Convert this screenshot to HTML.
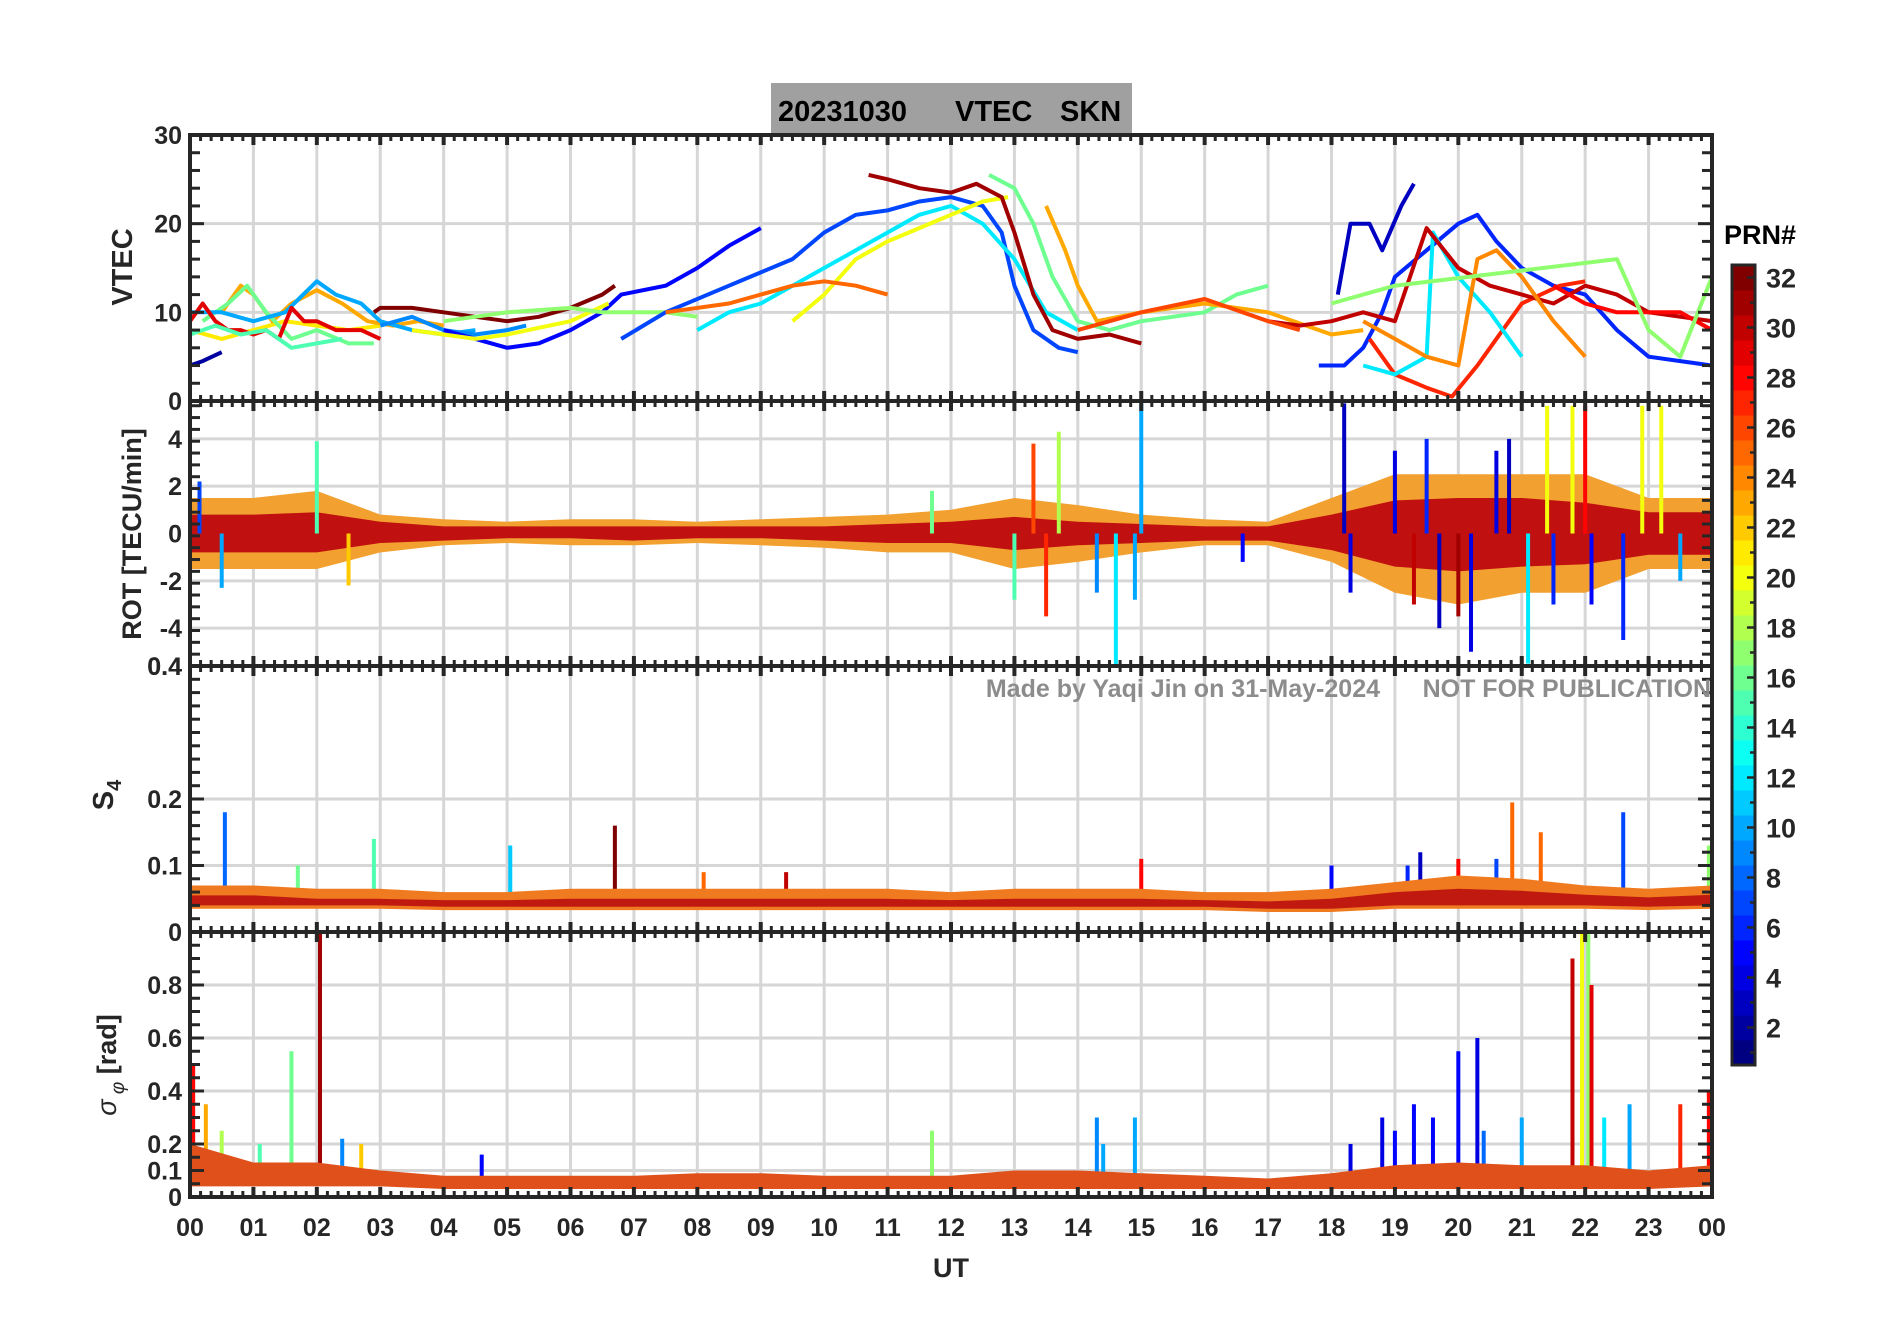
<!DOCTYPE html>
<html><head><meta charset="utf-8"><style>
html,body{margin:0;padding:0;background:#fff;}
svg{display:block;font-family:"Liberation Sans",Arial,sans-serif;font-weight:bold;}
</style></head><body>
<svg id="chart" width="1902" height="1330" viewBox="0 0 1902 1330" xmlns="http://www.w3.org/2000/svg">
<rect x="0" y="0" width="1902" height="1330" fill="#fff"/>
<rect x="771" y="83" width="361" height="50" fill="#a0a0a0"/>
<text x="778" y="121" font-size="29" fill="#000">20231030</text>
<text x="955" y="121" font-size="29" fill="#000">VTEC</text>
<text x="1060" y="121" font-size="29" fill="#000">SKN</text>
<g id="layer"></g>
</svg>
<script>
// ---------- data ----------
const hourTicks = ["00","01","02","03","04","05","06","07","08","09","10","11","12","13","14","15","16","17","18","19","20","21","22","23","00"];
const vtecTicks = [0,10,20,30];
const rotTicks = [-4,-2,0,2,4];
const s4Ticks = [0,0.1,0.2,0.4];
const sigTicks = [0,0.1,0.2,0.4,0.6,0.8];
const cbTicks = [2,4,6,8,10,12,14,16,18,20,22,24,26,28,30,32];

// VTEC series: prn + [hour, value]
const vtecPrn = [21,23,16,10,29,15,9,2,32,5,20,17,7,12,20,31,25,16,23,6,3,27,12,30,24,28,17,26];
const vtecVals = [
 [[0,8],[0.5,7],[1,8],[1.5,9],[2,8.5],[2.5,8],[3,8.5]],
 [[0.5,10],[0.8,13],[1,12],[1.3,9],[1.6,11],[2,12.5],[2.4,11],[2.8,9],[3.2,8.5],[3.6,9],[4,8.5]],
 [[0.2,9],[0.6,11],[0.9,13],[1.2,10],[1.6,7],[2,8],[2.5,6.5],[2.9,6.5]],
 [[0,10],[0.5,10],[1,9],[1.5,10],[2,13.5],[2.3,12],[2.7,11],[3,9],[3.5,8],[4,7.5],[4.5,8]],
 [[0,9],[0.2,11],[0.4,9],[0.6,8],[0.8,8],[1,7.5],[1.2,8],[1.4,7],[1.6,10.5],[1.8,9],[2,9],[2.3,8],[2.7,8],[3,7]],
 [[0,7.5],[0.4,8.5],[0.8,7.5],[1.2,8],[1.6,6],[2,6.5],[2.4,7]],
 [[3,8.5],[3.5,9.5],[4,8],[4.5,7.5],[5,8],[5.3,8.5]],
 [[0,4],[0.2,4.5],[0.5,5.5]],
 [[2.9,10],[3,10.5],[3.5,10.5],[4,10],[4.5,9.5],[5,9],[5.5,9.5],[6,10.5],[6.5,12],[6.7,13]],
 [[4,8],[4.5,7],[5,6],[5.5,6.5],[6,8],[6.5,10],[6.8,12],[7.5,13],[8,15],[8.5,17.5],[9,19.5]],
 [[3.5,8],[4.5,7],[5,7.5],[6,9],[6.6,11]],
 [[4,9],[5,10],[6,10.5],[6.5,10],[7.5,10],[8,9.5]],
 [[6.8,7],[7.5,10],[8.5,13],[9.5,16],[10,19],[10.5,21],[11,21.5],[11.5,22.5],[12,23],[12.5,22],[12.8,19],[13,13],[13.3,8],[13.7,6],[14,5.5]],
 [[8,8],[8.5,10],[9,11],[9.5,13],[10,15],[10.5,17],[11,19],[11.5,21],[12,22],[12.5,20],[13,16],[13.5,10],[14,8]],
 [[9.5,9],[10,12],[10.5,16],[11,18],[11.5,19.5],[12,21],[12.5,22.5],[12.9,23]],
 [[10.7,25.5],[11,25],[11.5,24],[12,23.5],[12.4,24.5],[12.8,23],[13,19],[13.3,12],[13.6,8],[14,7],[14.5,7.5],[15,6.5]],
 [[7.5,10],[8.5,11],[9.5,13],[10,13.5],[10.5,13],[11,12]],
 [[12.6,25.5],[13,24],[13.3,20],[13.6,14],[14,9],[14.5,8],[15,9],[16,10],[16.5,12],[17,13]],
 [[13.5,22],[13.8,17],[14,13],[14.3,9],[15,10],[16,11],[17,10],[18,7.5],[18.5,8]],
 [[17.8,4],[18.2,4],[18.5,6],[18.8,10],[19,14],[19.5,17],[20,20],[20.3,21],[20.6,18],[21,15],[21.5,13],[22,12],[22.5,8],[23,5],[23.5,4.5],[24,4]],
 [[18.1,12],[18.3,20],[18.6,20],[18.8,17],[19.1,22],[19.3,24.5]],
 [[18.6,7],[19,3],[19.5,1.5],[19.9,0.5],[20.3,4],[20.7,8],[21,11],[21.3,12],[21.6,13],[22,13.5]],
 [[18.5,4],[19,3],[19.5,5],[19.6,19],[20,14],[20.5,10],[21,5]],
 [[17,9],[17.5,8.5],[18,9],[18.5,10],[19,9],[19.5,19.5],[20,15],[20.5,13],[21,12],[21.5,11],[22,13],[22.5,12],[23,10],[24,9]],
 [[18.5,9],[19,7],[19.5,5],[20,4],[20.3,16],[20.6,17],[21,14],[21.5,9],[22,5]],
 [[21.5,13],[22,11],[22.5,10],[23,10],[23.5,10],[24,8]],
 [[18,11],[18.5,12],[19,13],[22.5,16],[23,8],[23.5,5],[24,14]],
 [[14,8],[15,10],[16,11.5],[17,9],[17.5,8]]
];

// ROT band (hourly 0..24)
const rotHi = [1.5,1.5,1.8,0.8,0.6,0.5,0.6,0.6,0.5,0.6,0.7,0.8,1.0,1.5,1.2,0.8,0.6,0.5,1.5,2.5,2.5,2.5,2.5,1.5,1.5];
const rotLo = [-1.5,-1.5,-1.5,-0.8,-0.5,-0.4,-0.5,-0.5,-0.4,-0.5,-0.6,-0.8,-0.8,-1.5,-1.2,-0.8,-0.5,-0.5,-1.2,-2.5,-3,-2.5,-2.5,-1.5,-1.5];
const rotInHi = [0.8,0.8,0.9,0.5,0.3,0.3,0.3,0.3,0.3,0.3,0.3,0.4,0.5,0.7,0.5,0.4,0.3,0.3,0.8,1.4,1.5,1.5,1.3,0.9,0.9];
const rotInLo = [-0.8,-0.8,-0.8,-0.4,-0.3,-0.2,-0.2,-0.3,-0.2,-0.2,-0.3,-0.4,-0.4,-0.7,-0.5,-0.4,-0.3,-0.3,-0.7,-1.4,-1.6,-1.4,-1.3,-0.9,-0.9];
const rotSpikes = [[0.15,2.2,7],[0.5,-2.3,10],[2.0,3.9,15],[2.5,-2.2,22],[11.7,1.8,16],[13.0,-2.8,15],[13.3,3.8,26],[13.5,-3.5,27],[13.7,4.3,18],[14.3,-2.5,9],[14.6,-6,12],[15,5.5,10],[14.9,-2.8,10],[16.6,-1.2,5],[18.2,5.5,3],[18.3,-2.5,4],[19,3.5,4],[19.5,4,6],[19.7,-4,3],[20.2,-5,4],[20.6,3.5,4],[20.8,4,3],[21.1,-5.5,12],[21.5,-3,6],[21.4,5.4,20],[21.8,5.4,20],[22.0,5.4,28],[22.1,-3,5],[22.6,-4.5,6],[22.9,5.4,20],[23.2,5.4,20],[23.5,-2,10],[20.0,-3.5,31],[19.3,-3,30]];

// S4 band + spikes
const s4Hi = [0.07,0.07,0.065,0.065,0.06,0.06,0.065,0.065,0.065,0.065,0.065,0.065,0.06,0.065,0.065,0.065,0.06,0.06,0.065,0.075,0.085,0.08,0.07,0.065,0.07];
const s4Lo = [0.035,0.035,0.035,0.035,0.033,0.033,0.033,0.033,0.033,0.033,0.033,0.033,0.033,0.033,0.033,0.033,0.033,0.03,0.03,0.035,0.035,0.035,0.035,0.033,0.035];
const s4InHi = [0.055,0.055,0.05,0.05,0.048,0.048,0.05,0.05,0.05,0.05,0.05,0.05,0.048,0.05,0.05,0.05,0.048,0.046,0.05,0.06,0.065,0.062,0.056,0.052,0.056];
const s4InLo = [0.04,0.04,0.04,0.04,0.038,0.038,0.038,0.038,0.038,0.038,0.038,0.038,0.038,0.038,0.038,0.038,0.038,0.035,0.035,0.04,0.04,0.04,0.04,0.038,0.04];
const s4Spikes = [[0.55,0.18,8],[2.9,0.14,15],[5.05,0.13,11],[6.7,0.16,32],[9.4,0.09,30],[15,0.11,28],[20.85,0.195,25],[21.3,0.15,25],[22.6,0.18,7],[23.95,0.13,17],[19.4,0.12,3],[20,0.11,28],[1.7,0.1,16],[8.1,0.09,25],[18,0.1,5],[19.2,0.1,6],[20.6,0.11,7]];

// sigma-phi band + spikes
const sigHi = [0.2,0.13,0.13,0.1,0.08,0.08,0.08,0.08,0.09,0.09,0.08,0.08,0.08,0.1,0.1,0.09,0.08,0.07,0.09,0.12,0.13,0.12,0.12,0.1,0.12];
const sigLo = [0.04,0.04,0.04,0.04,0.03,0.03,0.03,0.03,0.03,0.03,0.03,0.03,0.03,0.03,0.03,0.03,0.03,0.03,0.03,0.03,0.03,0.03,0.03,0.03,0.04];
const sigSpikes = [[0.05,0.5,28],[0.25,0.35,23],[1.6,0.55,16],[2.05,1.0,31],[14.3,0.3,9],[14.9,0.3,10],[20.0,0.55,5],[20.3,0.6,4],[21.8,0.9,30],[21.95,1.0,20],[22.05,1.0,17],[22.1,0.8,29],[11.7,0.25,17],[23.5,0.35,27],[23.95,0.4,28],[18.8,0.3,4],[19.3,0.35,5],[18.3,0.2,4],[19.0,0.25,5],[19.6,0.3,5],[20.4,0.25,8],[21.0,0.3,10],[22.3,0.3,12],[22.7,0.35,10],[14.4,0.2,10],[0.5,0.25,18],[1.1,0.2,15],[2.4,0.22,9],[2.7,0.2,22],[4.6,0.16,5]];

// ---------- layout ----------
const X0 = 190, X1 = 1712;
const P = {
  vtec:{t:135,b:401,min:0,max:30},
  rot:{t:401,b:666,min:-5.6,max:5.6},
  s4:{t:666,b:932,min:0,max:0.4},
  sig:{t:932,b:1197,min:0,max:1}
};
const NS = "http://www.w3.org/2000/svg";
const layer = document.getElementById('layer');
function xs(h){return X0 + (X1-X0)*h/24;}
function ys(p,v){return p.b - (p.b-p.t)*(v-p.min)/(p.max-p.min);}
function jet(prn){
  const v=(prn-1)/31;
  const r=Math.max(0,Math.min(1,Math.min(4*v-1.5,-4*v+4.5)));
  const g=Math.max(0,Math.min(1,Math.min(4*v-0.5,-4*v+3.5)));
  const b=Math.max(0,Math.min(1,Math.min(4*v+0.5,-4*v+2.5)));
  return `rgb(${Math.round(r*255)},${Math.round(g*255)},${Math.round(b*255)})`;
}
function mk(tag,attrs,parent){
  const e=document.createElementNS(NS,tag);
  for(const k in attrs) e.setAttribute(k,attrs[k]);
  (parent||layer).appendChild(e);
  return e;
}

const panels = [['vtec',vtecTicks],['rot',rotTicks],['s4',s4Ticks],['sig',sigTicks]];
panels.forEach(([k,ticks])=>{
  const p=P[k];
  for(let h=1;h<24;h++){
    const l=mk('line',{x1:xs(h),x2:xs(h),y1:p.t,y2:p.b,stroke:'#d6d6d6','stroke-width':3});
    
    
  }
  ticks.forEach(v=>{
    const l=mk('line',{x1:X0,x2:X1,y1:ys(p,v),y2:ys(p,v),stroke:'#d6d6d6','stroke-width':3});
    
    
  });
});

function clipFor(k){
  const p=P[k];
  const cp=mk('clipPath',{id:'clip-'+k});
  mk('rect',{x:X0,y:p.t,width:X1-X0,height:p.b-p.t},cp);
  return 'url(#clip-'+k+')';
}

const gV = mk('g',{'clip-path':clipFor('vtec')});


vtecVals.forEach((s,i)=>{
  const d=s.map((pt,j)=>(j?'L':'M')+xs(pt[0]).toFixed(1)+' '+ys(P.vtec,pt[1]).toFixed(1)).join(' ');
  const e=mk('path',{d:d,fill:'none',stroke:jet(vtecPrn[i]),'stroke-width':4,'stroke-linejoin':'round'},gV);
  
  
});

function band(k,hi,lo,color,name,g){
  const p=P[k];
  let d='M'+hi.map((v,i)=>xs(i).toFixed(1)+' '+ys(p,v).toFixed(1)).join(' L');
  d+=' L'+lo.map((v,i)=>[i,v]).reverse().map(a=>xs(a[0]).toFixed(1)+' '+ys(p,a[1]).toFixed(1)).join(' L')+'Z';
  const e=mk('path',{d:d,fill:color,stroke:'none'},g);
  
  
}
function spikes(k,arr,base,g){
  const p=P[k];
  arr.forEach(s=>{
    const e=mk('line',{x1:xs(s[0]),x2:xs(s[0]),y1:ys(p,base),y2:ys(p,s[1]),stroke:jet(s[2]),'stroke-width':4},g);
    
    
  });
}

const gR = mk('g',{'clip-path':clipFor('rot')});


band('rot',rotHi,rotLo,'#f2a030','rot-outer-band',gR);
band('rot',rotInHi,rotInLo,'#c01010','rot-inner-band',gR);
spikes('rot',rotSpikes,0,gR);

const gS = mk('g',{'clip-path':clipFor('s4')});


spikes('s4',s4Spikes,0.04,gS);
band('s4',s4Hi,s4Lo,'#f07a20','s4-band',gS);
band('s4',s4InHi,s4InLo,'#c01a10','s4-inner-band',gS);

const gG = mk('g',{'clip-path':clipFor('sig')});


spikes('sig',sigSpikes,0.05,gG);
band('sig',sigHi,sigLo,'#e0501a','sigma-band',gG);

panels.forEach(([k,ticks])=>{
  const p=P[k];
  for(let m=0;m<=144;m++){
    const h=m/6, major=(m%6===0), len=major?10:6;
    [[p.t,1],[p.b,-1]].forEach(([y,dir])=>{
      const e=mk('line',{x1:xs(h),x2:xs(h),y1:y,y2:y+dir*len,stroke:'#262626','stroke-width':major?4:3});
      
      
    });
  }
  const step=(k==='vtec')?2:(k==='rot'?0.5:(k==='s4'?0.02:0.05));
  for(let v=p.min;v<=p.max+1e-9;v+=step){
    const yy=ys(p,v);
    [[X0,1],[X1,-1]].forEach(([x,dir])=>{
      const e=mk('line',{x1:x,x2:x+dir*(ticks.some(t=>Math.abs(t-v)<1e-6)?14:10),y1:yy,y2:yy,stroke:'#262626','stroke-width':3});
      
      
    });
  }
  const r=mk('rect',{x:X0,y:p.t,width:X1-X0,height:p.b-p.t,fill:'none',stroke:'#262626','stroke-width':4});
  
  
  ticks.forEach(v=>{
    const t=mk('text',{x:X0-8,y:ys(p,v)+9,'font-size':25,'text-anchor':'end',fill:'#262626'});
    t.textContent=String(v);
    
    
  });
});
{
  const t=mk('text',{x:X0-8,y:P.s4.t+9,'font-size':25,'text-anchor':'end',fill:'#262626'});
  t.textContent='0.4';
  
  
}
hourTicks.forEach((lab,i)=>{
  const t=mk('text',{x:xs(i),y:1236,'font-size':25,'text-anchor':'middle',fill:'#262626'});
  t.textContent=lab;
  
  
});
</script>
<script>
(function(){
const layer=document.getElementById('layer');
const NS="http://www.w3.org/2000/svg";
function mk(tag,attrs){const e=document.createElementNS(NS,tag);for(const k in attrs)e.setAttribute(k,attrs[k]);layer.appendChild(e);return e;}
let t;
t=mk('text',{x:951,y:1277,'font-size':27,'text-anchor':'middle',fill:'#262626'});t.textContent='UT';


t=mk('text',{x:0,y:0,'font-size':29,'text-anchor':'middle',fill:'#262626',transform:'translate(132,267) rotate(-90)'});t.textContent='VTEC';


t=mk('text',{x:0,y:0,'font-size':27,'text-anchor':'middle',fill:'#262626',transform:'translate(141,534) rotate(-90)'});t.textContent='ROT [TECU/min]';


t=mk('text',{x:0,y:0,'font-size':29,'text-anchor':'middle',fill:'#262626',transform:'translate(113,795) rotate(-90)'});t.innerHTML='S<tspan font-size="20" dy="8">4</tspan>';


t=mk('text',{x:0,y:0,'font-size':27,'text-anchor':'middle',fill:'#262626',transform:'translate(116,1065) rotate(-90)'});t.innerHTML='<tspan font-style="italic" font-weight="normal">σ</tspan><tspan font-size="19" dy="8" font-style="italic" font-weight="normal"> φ</tspan><tspan dy="-8"> [rad]</tspan>';


t=mk('text',{x:1380,y:697,'font-size':25,'text-anchor':'end',fill:'#8c8c8c'});t.textContent='Made by Yaqi Jin on 31-May-2024';


t=mk('text',{x:1711,y:697,'font-size':25,'text-anchor':'end',fill:'#8c8c8c'});t.textContent='NOT FOR PUBLICATION';


const cbT=265, cbB=1065, cbX=1732, cbW=23;
function jet(prn){const v=(prn-1)/31;
const r=Math.max(0,Math.min(1,Math.min(4*v-1.5,-4*v+4.5)));
const g=Math.max(0,Math.min(1,Math.min(4*v-0.5,-4*v+3.5)));
const b=Math.max(0,Math.min(1,Math.min(4*v+0.5,-4*v+2.5)));
return `rgb(${Math.round(r*255)},${Math.round(g*255)},${Math.round(b*255)})`;}
const cy=v=>cbB-(cbB-cbT)*(v-0.5)/32;
for(let p=1;p<=32;p++){
  const r=mk('rect',{x:cbX,y:cy(p+0.5),width:cbW,height:(cbB-cbT)/32+0.5,fill:jet(p)});
  
  
}
for(let p=1;p<=32;p++){
  const l=mk('line',{x1:cbX+cbW,x2:cbX+cbW-(p%2===0?8:5),y1:cy(p),y2:cy(p),stroke:'#262626','stroke-width':2.5});
  
  
}
const cbr=mk('rect',{x:cbX,y:cbT,width:cbW,height:cbB-cbT,fill:'none',stroke:'#262626','stroke-width':3});


[2,4,6,8,10,12,14,16,18,20,22,24,26,28,30,32].forEach(v=>{
  const tt=mk('text',{x:1766,y:cy(v)+10,'font-size':27,fill:'#262626'});tt.textContent=String(v);
  
  
});
t=mk('text',{x:1724,y:244,'font-size':27,fill:'#000'});t.textContent='PRN#';


})();
</script>
</body></html>
